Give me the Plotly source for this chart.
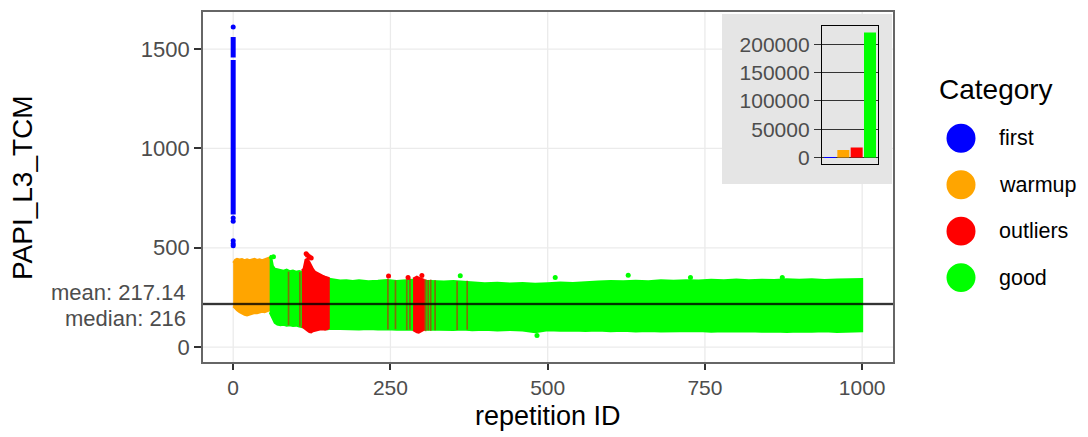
import plotly.graph_objects as go

# ---------------- data ----------------
# repetition 0: first-call measurements (dense run plus a few stragglers)
first_run_lo = [668, 1458]
first_run_hi = [1445, 1561]
first_pts_y = [1612, 650, 634, 535, 520, 510]

# warmup envelope (repetition ID -> min / max PAPI_L3_TCM)
warm_x = [0, 3, 6, 10, 14, 18, 22, 26, 30, 34, 38, 42, 46, 50, 54, 58]
warm_hi = [425, 440, 444, 441, 443, 438, 442, 437, 441, 444, 439, 442, 438, 443, 447, 452]
warm_lo = [205, 195, 185, 176, 168, 163, 159, 162, 168, 172, 170, 175, 178, 176, 180, 185]

# good measurements envelope
good_x = [58, 60, 63, 66, 70, 75, 80, 85, 90, 95, 100, 105, 110, 115, 120, 130, 140,
          150, 155, 160, 170, 180, 190, 200, 215, 230, 245, 260, 275, 290, 305, 320,
          335, 350, 365, 380, 400, 420, 440, 460, 480, 500, 520, 540, 560, 580, 600,
          620, 640, 660, 680, 700, 720, 740, 760, 780, 800, 820, 840, 860, 880, 900,
          920, 940, 960, 980, 1000]
good_hi = [445, 462, 410, 395, 392, 388, 385, 390, 382, 386, 380, 383, 378, 370, 365,
           358, 350, 345, 340, 338, 335, 337, 333, 336, 332, 334, 338, 333, 336, 340,
           334, 332, 330, 333, 329, 328, 322, 324, 320, 323, 319, 322, 325, 323, 328,
           330, 333, 331, 334, 332, 336, 334, 337, 335, 339, 336, 340, 337, 339, 338,
           341, 339, 342, 338, 340, 341, 343]
good_lo = [175, 160, 140, 122, 113, 110, 112, 108, 110, 106, 108, 104, 100, 98, 95,
           93, 92, 90, 92, 90, 91, 88, 90, 89, 91, 88, 90, 87, 89, 86, 88, 85, 87, 86,
           88, 85, 87, 84, 86, 83, 75, 85, 82, 84, 81, 83, 80, 82, 79, 81, 78, 80, 79,
           81, 77, 80, 78, 80, 77, 79, 76, 79, 77, 80, 76, 78, 80]
good_pts_x = [361, 512, 628, 727, 873, 483, 64]
good_pts_y = [359, 350, 362, 350, 350, 58, 455]

# outlier blocks
out1_x = [109, 112, 115, 118, 121, 124, 127, 130, 134, 138, 142, 146, 150, 152]
out1_hi = [385, 395, 440, 445, 430, 410, 392, 380, 372, 365, 360, 355, 352, 348]
out1_lo = [105, 98, 90, 82, 76, 74, 80, 84, 86, 88, 90, 88, 91, 95]
out2_x = [286, 289, 292, 295, 298, 301, 303]
out2_hi = [345, 352, 355, 350, 347, 343, 340]
out2_lo = [85, 80, 74, 72, 78, 82, 86]
out_pts_x = [116, 118, 121, 124, 247, 278, 300]
out_pts_y = [470, 462, 455, 448, 358, 350, 360]
# isolated outlier repetitions (thin columns)
out_thin_x = [88, 106, 246, 258, 276, 281, 306, 310, 314, 321, 356, 372]
out_thin_lo = [110, 104, 88, 90, 86, 88, 80, 84, 82, 85, 86, 88]
out_thin_hi = [380, 378, 345, 336, 340, 345, 342, 338, 340, 336, 332, 334]

mean_val = 217.14
median_val = 216

# category counts for the inset
cat_names = ["first", "warmup", "outliers", "good"]
cat_counts = [200, 13500, 17500, 221000]
cat_colors = ["#0000FF", "#FFA500", "#FF0000", "#00FF00"]

# ---------------- figure ----------------
W, H = 1088, 437
L, R, T, B = 203, 195, 10, 75
PW, PH = W - L - R, H - T - B


def px_x(px):
    return (px - L) / PW


def px_y(py):
    return (H - B - py) / PH


FONT = "Liberation Sans, Arial, Helvetica, sans-serif"
fig = go.Figure()


def band(xs, hi, lo, color):
    fig.add_trace(go.Scatter(
        x=xs + xs[::-1], y=hi + lo[::-1], fill="toself", fillcolor=color,
        mode="lines", line=dict(color=color, width=2), hoverinfo="skip",
        showlegend=False))


band(warm_x, warm_hi, warm_lo, cat_colors[1])
band(good_x, good_hi, good_lo, cat_colors[3])
fig.add_trace(go.Scatter(x=good_pts_x, y=good_pts_y, mode="markers",
                         marker=dict(color=cat_colors[3], size=5), showlegend=False))

# thin outlier columns
tx, ty = [], []
for x, lo, hi in zip(out_thin_x, out_thin_lo, out_thin_hi):
    tx += [x, x, None]
    ty += [lo, hi, None]
fig.add_trace(go.Scatter(x=tx, y=ty, mode="lines",
                         line=dict(color="rgba(160,75,10,0.8)", width=1.7),
                         showlegend=False))
band(out1_x, out1_hi, out1_lo, cat_colors[2])
band(out2_x, out2_hi, out2_lo, cat_colors[2])
fig.add_trace(go.Scatter(x=out_pts_x, y=out_pts_y, mode="markers",
                         marker=dict(color=cat_colors[2], size=5), showlegend=False))

# first measurements at repetition 0
fx, fy = [], []
for lo, hi in zip(first_run_lo, first_run_hi):
    fx += [0, 0, None]
    fy += [lo, hi, None]
fig.add_trace(go.Scatter(x=fx, y=fy, mode="lines",
                         line=dict(color=cat_colors[0], width=5), showlegend=False))
fig.add_trace(go.Scatter(x=[0] * len(first_pts_y), y=first_pts_y, mode="markers",
                         marker=dict(color=cat_colors[0], size=5), showlegend=False))

# inset: counts per category
fig.add_trace(go.Bar(x=cat_names, y=cat_counts, marker=dict(color=cat_colors, line=dict(width=0)),
                     width=0.9, xaxis="x2", yaxis="y2", showlegend=False))

shapes = []
# panel grid
for v in [0, 250, 500, 750, 1000]:
    shapes.append(dict(type="line", xref="x", yref="paper", x0=v, x1=v, y0=0, y1=1,
                       line=dict(color="#EBEBEB", width=1.3), layer="below"))
for v in [0, 500, 1000, 1500]:
    shapes.append(dict(type="line", xref="paper", yref="y", x0=0, x1=1, y0=v, y1=v,
                       line=dict(color="#EBEBEB", width=1.3), layer="below"))
# inset background box
shapes.append(dict(type="rect", xref="paper", yref="paper",
                   x0=px_x(722), x1=px_x(892), y0=px_y(183), y1=px_y(12),
                   fillcolor="#E5E5E5", line=dict(width=0), layer="below"))
# mean / median lines
for v in [mean_val, median_val]:
    shapes.append(dict(type="line", xref="paper", yref="y", x0=0, x1=1, y0=v, y1=v,
                       line=dict(color="rgba(0,0,0,0.55)", width=2.2), layer="above"))
# legend keys
for i, c in enumerate(cat_colors):
    cy = 137 + i * 46.7
    r = 14.5
    shapes.append(dict(type="circle", xref="paper", yref="paper",
                       x0=px_x(961 - r), x1=px_x(961 + r), y0=px_y(cy + r), y1=px_y(cy - r),
                       fillcolor=c, line=dict(width=0)))

annotations = [
    dict(text="repetition ID", xref="paper", yref="paper", x=0.5, y=px_y(416),
         xanchor="center", yanchor="middle", showarrow=False,
         font=dict(family=FONT, size=27, color="black")),
    dict(text="PAPI_L3_TCM", xref="paper", yref="paper", x=px_x(22), y=0.5,
         xanchor="center", yanchor="middle", textangle=-90, showarrow=False,
         font=dict(family=FONT, size=28, color="black")),
    dict(text="mean: 217.14", xref="paper", yref="y", x=px_x(188), y=mean_val,
         xanchor="right", yanchor="middle", yshift=11, showarrow=False,
         font=dict(family=FONT, size=22, color="#4D4D4D")),
    dict(text="median: 216", xref="paper", yref="y", x=px_x(188), y=median_val,
         xanchor="right", yanchor="middle", yshift=-14, showarrow=False,
         font=dict(family=FONT, size=22, color="#4D4D4D")),
    dict(text="Category", xref="paper", yref="paper", x=px_x(937), y=px_y(88),
         xanchor="left", yanchor="middle", showarrow=False,
         font=dict(family=FONT, size=28, color="black")),
]
for i, name in enumerate(cat_names):
    annotations.append(dict(text=name, xref="paper", yref="paper", x=px_x(997),
                            y=px_y(137 + i * 46.7), xanchor="left", yanchor="middle",
                            showarrow=False, font=dict(family=FONT, size=21.5, color="black")))

fig.update_layout(
    width=W, height=H, margin=dict(l=L, r=R, t=T, b=B, pad=0),
    paper_bgcolor="white", plot_bgcolor="rgba(0,0,0,0)",
    font=dict(family=FONT, size=22, color="#4D4D4D"),
    showlegend=False, shapes=shapes, annotations=annotations,
    xaxis=dict(range=[-48, 1049], tickvals=[0, 250, 500, 750, 1000], showgrid=False,
               zeroline=False, ticks="outside", ticklen=6, tickwidth=1.5, tickcolor="#333333",
               showline=True, mirror=True, linecolor="#666666", linewidth=1.6,
               tickfont=dict(size=21, color="#4D4D4D")),
    yaxis=dict(range=[-75, 1687], tickvals=[0, 500, 1000, 1500], showgrid=False,
               zeroline=False, ticks="outside", ticklen=7, tickwidth=1.5, tickcolor="#333333",
               showline=True, mirror=True, linecolor="#666666", linewidth=1.6,
               tickfont=dict(size=22, color="#4D4D4D")),
    xaxis2=dict(domain=[px_x(822), px_x(878)], anchor="y2", type="category",
                categoryorder="array", categoryarray=cat_names, range=[-0.6, 3.6],
                showticklabels=False, ticks="", showgrid=False, zeroline=False,
                showline=True, mirror=True, linecolor="black", linewidth=1.3),
    yaxis2=dict(domain=[px_y(163), px_y(24)], anchor="x2", range=[-11700, 232800],
                tickvals=[0, 50000, 100000, 150000, 200000], tickformat="d",
                showgrid=True, gridcolor="#333333", gridwidth=1.2, zeroline=False,
                ticks="outside", ticklen=7, tickwidth=1.3, tickcolor="#333333",
                showline=True, mirror=True, linecolor="black", linewidth=1.3,
                tickfont=dict(size=21, color="#4D4D4D")),
)

fig.write_html("out.html")
